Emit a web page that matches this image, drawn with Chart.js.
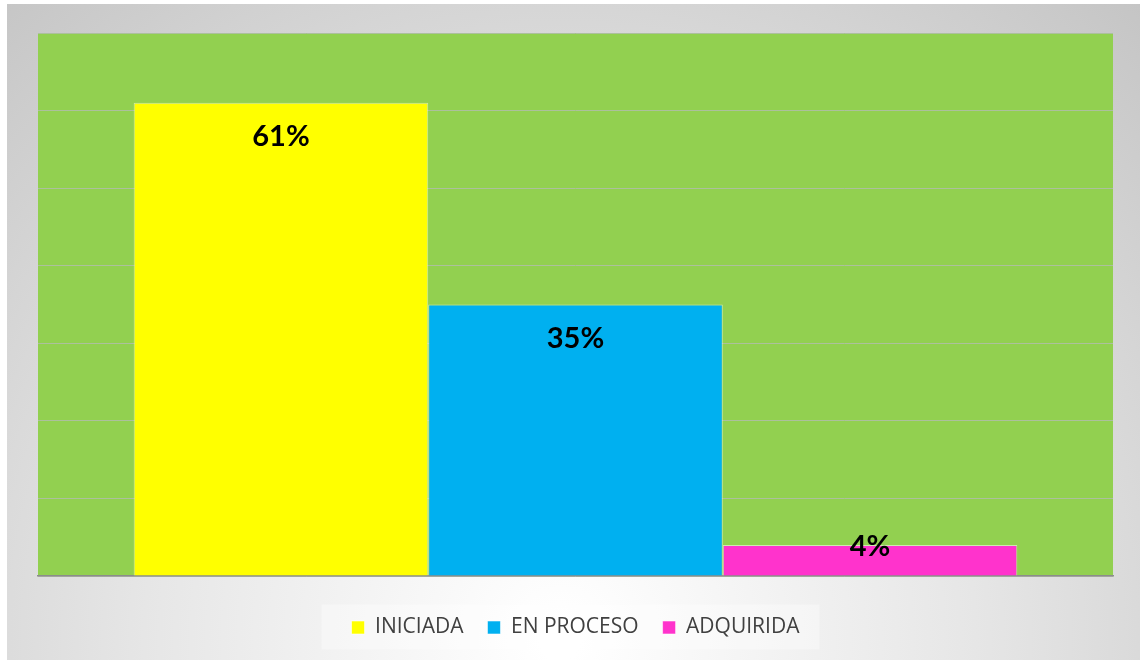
<!DOCTYPE html>
<html>
<head>
<meta charset="utf-8">
<script src="https://cdn.jsdelivr.net/npm/chart.js@4"></script>
<style>
  html, body { margin: 0; padding: 0; background: #fff; }
  #wrap { width: 1143px; height: 663px; }
</style>
</head>
<body>
<div id="wrap"><canvas id="myChart" width="1143" height="663"></canvas></div>
<script>
var categories = [''];
var seriesNames = ['INICIADA', 'EN PROCESO', 'ADQUIRIDA'];
var seriesValues = [61, 35, 4];
var seriesColors = ['#FFFF00', '#00B0F0', '#FF33CC'];
var yTicks = [0, 10, 20, 30, 40, 50, 60, 70];

// frame, plot fill and legend box behind everything
var backdrop = {
  id: 'backdrop',
  beforeDraw: function (chart) {
    var c = chart.ctx, a = chart.chartArea;
    c.save();
    c.fillStyle = '#ffffff';
    c.fillRect(0, 0, chart.width, chart.height);
    var g = c.createRadialGradient(560, 640, 20, 560, 640, 900);
    g.addColorStop(0, '#ffffff');
    g.addColorStop(0.45, '#e6e6e6');
    g.addColorStop(1, '#c2c2c2');
    c.fillStyle = g;
    c.fillRect(7, 4, 1133, 656);
    c.fillStyle = '#92D050';
    c.fillRect(a.left, a.top, a.right - a.left, a.bottom - a.top);
    var hb = chart.legend && chart.legend.legendHitBoxes;
    if (hb && hb.length) {
      var l = hb[0].left - 30, r = hb[hb.length - 1].left + hb[hb.length - 1].width + 20;
      var mid = hb[0].top + hb[0].height / 2;
      c.fillStyle = 'rgba(255,255,255,0.35)';
      c.fillRect(l, mid - 23, r - l, 45);
    }
    c.restore();
  }
};

var barLabels = {
  id: 'barLabels',
  afterDatasetsDraw: function (chart) {
    var c = chart.ctx;
    c.save();
    c.font = 'bold 29px Lato, "Open Sans", sans-serif';
    c.fillStyle = '#000';
    c.textAlign = 'center';
    c.textBaseline = 'middle';
    chart.data.datasets.forEach(function (ds, i) {
      var bar = chart.getDatasetMeta(i).data[0];
      var h = bar.base - bar.y;
      var y = h > 70 ? bar.y + 34 : bar.y + 2;
      c.fillText(ds.data[0] + '%', bar.x, y);
    });
    c.restore();
  }
};

var ctx = document.getElementById('myChart').getContext('2d');
var myChart = new Chart(ctx, {
  type: 'bar',
  data: {
    labels: categories,
    datasets: seriesNames.map(function (name, i) {
      return {
        label: name,
        data: [seriesValues[i]],
        backgroundColor: seriesColors[i],
        borderColor: 'rgba(255,255,255,0.55)',
        borderWidth: 1,
        categoryPercentage: 0.822,
        barPercentage: 1
      };
    })
  },
  plugins: [backdrop, barLabels],
  options: {
    responsive: false,
    animation: false,
    layout: { padding: { left: 38, top: 33, right: 30, bottom: 15 } },
    plugins: {
      tooltip: { enabled: false },
      legend: {
        position: 'bottom',
        labels: {
          boxWidth: 13,
          boxHeight: 13,
          padding: 24,
          color: '#404040',
          font: { family: '"Open Sans", Calibri, sans-serif', size: 21 },
          useBorderRadius: false
        }
      }
    },
    scales: {
      x: {
        ticks: { display: false },
        grid: { display: false, drawTicks: false },
        border: { display: true, color: '#8c8c8c', width: 1.5 },
        afterFit: function (axis) { axis.height += 17; }
      },
      y: {
        min: 0,
        max: 70,
        afterBuildTicks: function (axis) {
          axis.ticks = yTicks.map(function (v) { return { value: v }; });
        },
        ticks: { display: false },
        grid: { color: 'rgba(175,190,165,0.9)', drawTicks: false },
        border: { display: false }
      }
    }
  }
});
</script>
</body>
</html>
